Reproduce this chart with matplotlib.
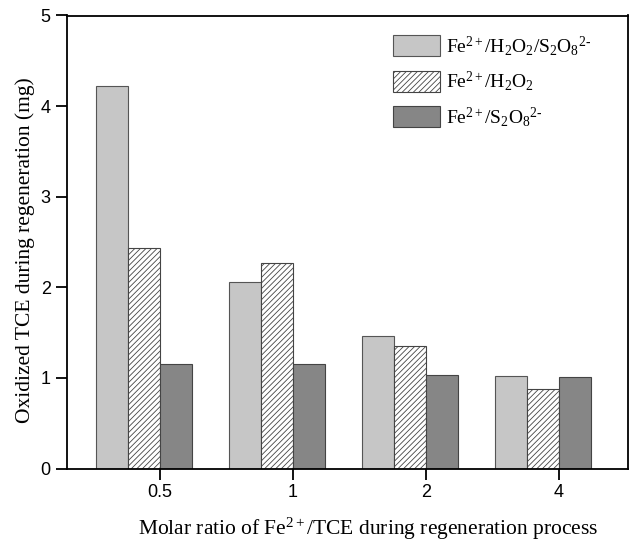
import matplotlib
matplotlib.use('Agg')
import matplotlib.pyplot as plt
import numpy as np

matplotlib.rcParams['mathtext.fontset'] = 'custom'
matplotlib.rcParams['mathtext.rm'] = 'Liberation Serif'
matplotlib.rcParams['mathtext.it'] = 'Liberation Serif:italic'
matplotlib.rcParams['hatch.linewidth'] = 0.6

categories = ['0.5', '1', '2', '4']
mixed = [4.22, 2.06, 1.46, 1.02]
h2o2 = [2.43, 2.27, 1.35, 0.88]
persulfate = [1.15, 1.15, 1.03, 1.01]
labels = [r'Fe$^{2+}$/H$_2$O$_2$/S$_2$O$_8$$^{2\text{-}}$',
          r'Fe$^{2+}$/H$_2$O$_2$',
          r'Fe$^{2+}$/S$_2$O$_8$$^{2\text{-}}$']

fig = plt.figure(figsize=(6.32, 5.41), dpi=100)
ax = fig.add_axes([66.7/632, 1 - 468.5/541, (628 - 66.7)/632, (468.5 - 15.5)/541])

x = np.arange(len(categories))
w = 0.24
ax.bar(x - 1.5*w, mixed, w, color='#c6c6c6', edgecolor='#555555', linewidth=0.8, label=labels[0])
ax.bar(x - 0.5*w, h2o2, w, color='white', edgecolor='#444444', hatch='//////', linewidth=0.8, label=labels[1])
ax.bar(x + 0.5*w, persulfate, w, color='#868686', edgecolor='#444444', linewidth=0.8, label=labels[2])

ax.set_xlim(-0.70, 3.52)
ax.set_ylim(0, 5)
ax.set_xticks(x)
ax.set_xticklabels(categories, family='Liberation Sans', fontsize=13)
ax.set_yticks(range(6))
ax.set_yticklabels([str(i) for i in range(6)], family='Liberation Sans', fontsize=13)
ax.tick_params(direction='out', length=8, width=1.3)
for s in ax.spines.values():
    s.set_linewidth(1.3)

ax.set_ylabel('Oxidized TCE during regeneration (mg)', family='Liberation Serif', fontsize=15.5, labelpad=4)
ax.set_xlabel(r'Molar ratio of Fe$^{2+}$/TCE during regeneration process', family='Liberation Serif', fontsize=15.5, labelpad=10)
ax.yaxis.label.set_y(0.482)
ax.xaxis.label.set_x(0.537)

leg = ax.legend(loc='upper right', bbox_to_anchor=(0.965, 0.998), frameon=False,
                prop={'family': 'Liberation Serif', 'size': 14},
                handlelength=2.4, handleheight=1.3, handletextpad=0.3, labelspacing=0.6)

fig.savefig('out.png', dpi=100)
